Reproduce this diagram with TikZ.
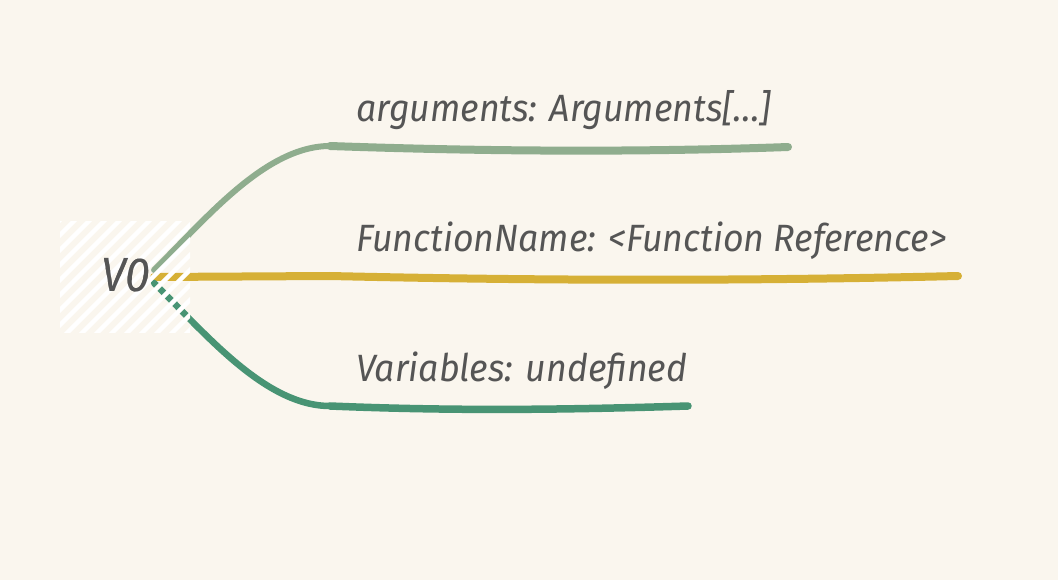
\documentclass[tikz,border=0pt]{standalone}
\usepackage{fontspec}
\newfontfamily\handfont[FakeStretch=0.94]{Fira Sans}
\definecolor{bgcol}{RGB}{250,246,238}
\definecolor{inkcol}{RGB}{85,85,85}
\definecolor{sagecol}{RGB}{143,173,142}
\definecolor{goldcol}{RGB}{214,176,54}
\definecolor{tealcol}{RGB}{72,148,116}
\begin{document}
\begin{tikzpicture}[x=1pt,y=-1pt,
  branch/.style={line cap=round, line join=round},
  lbl/.style={anchor=base west, inner sep=0pt, text=inkcol,
    font=\handfont\itshape\fontsize{38}{42}\selectfont},
  rootlbl/.style={inner sep=0pt, text=inkcol,
    font=\handfont\itshape\fontsize{48}{52}\selectfont},
  hatch/.style={white, line width=4.5pt}]
\fill[bgcol] (0,0) rectangle (1058,580);
\useasboundingbox (0,0) rectangle (1058,580);

% root node
\node[rootlbl] (root) at (126,275) {V0};

% label nodes
\node[lbl] (l1) at (356,122) {arguments: Arguments[...]};
\node[lbl] (l2) at (356,252) {FunctionName: <Function Reference>};
\node[lbl] (l3) at (356,381) {Variables: undefined};

% branch coordinates
\coordinate (s1) at ([shift={(3,-5)}]root.east);
\coordinate (s2) at ([shift={(3,2)}]root.east);
\coordinate (s3) at ([shift={(3,8)}]root.east);
\coordinate (k1) at (330,146);
\coordinate (k2) at (330,276);
\coordinate (k3) at (330,406);
\coordinate (e1) at (788,147);
\coordinate (e2) at (958,276);
\coordinate (e3) at (688,406);

% branches
\draw[branch, sagecol, line width=6pt] (s1) .. controls (205,220) and (265,146) .. (k1);
\draw[branch, sagecol, line width=8pt] (k1) .. controls (500,152) and (650,152) .. (e1);
\draw[branch, goldcol, line width=8pt] (s2) -- (k2) .. controls (550,281) and (750,281) .. (e2);
\draw[branch, tealcol, line width=6.5pt] (s3) .. controls (205,333) and (265,406) .. (k3);
\draw[branch, tealcol, line width=7.5pt] (k3) .. controls (450,411) and (560,410) .. (e3);

% hatched root background
\begin{scope}
\clip (60,222) rectangle (190,332);
\foreach \i in {-120,-105,...,200}
  \draw[hatch] (\i,340) -- (\i+125,215);
\end{scope}

\node[rootlbl] at (root) {V0};
\end{tikzpicture}
\end{document}
